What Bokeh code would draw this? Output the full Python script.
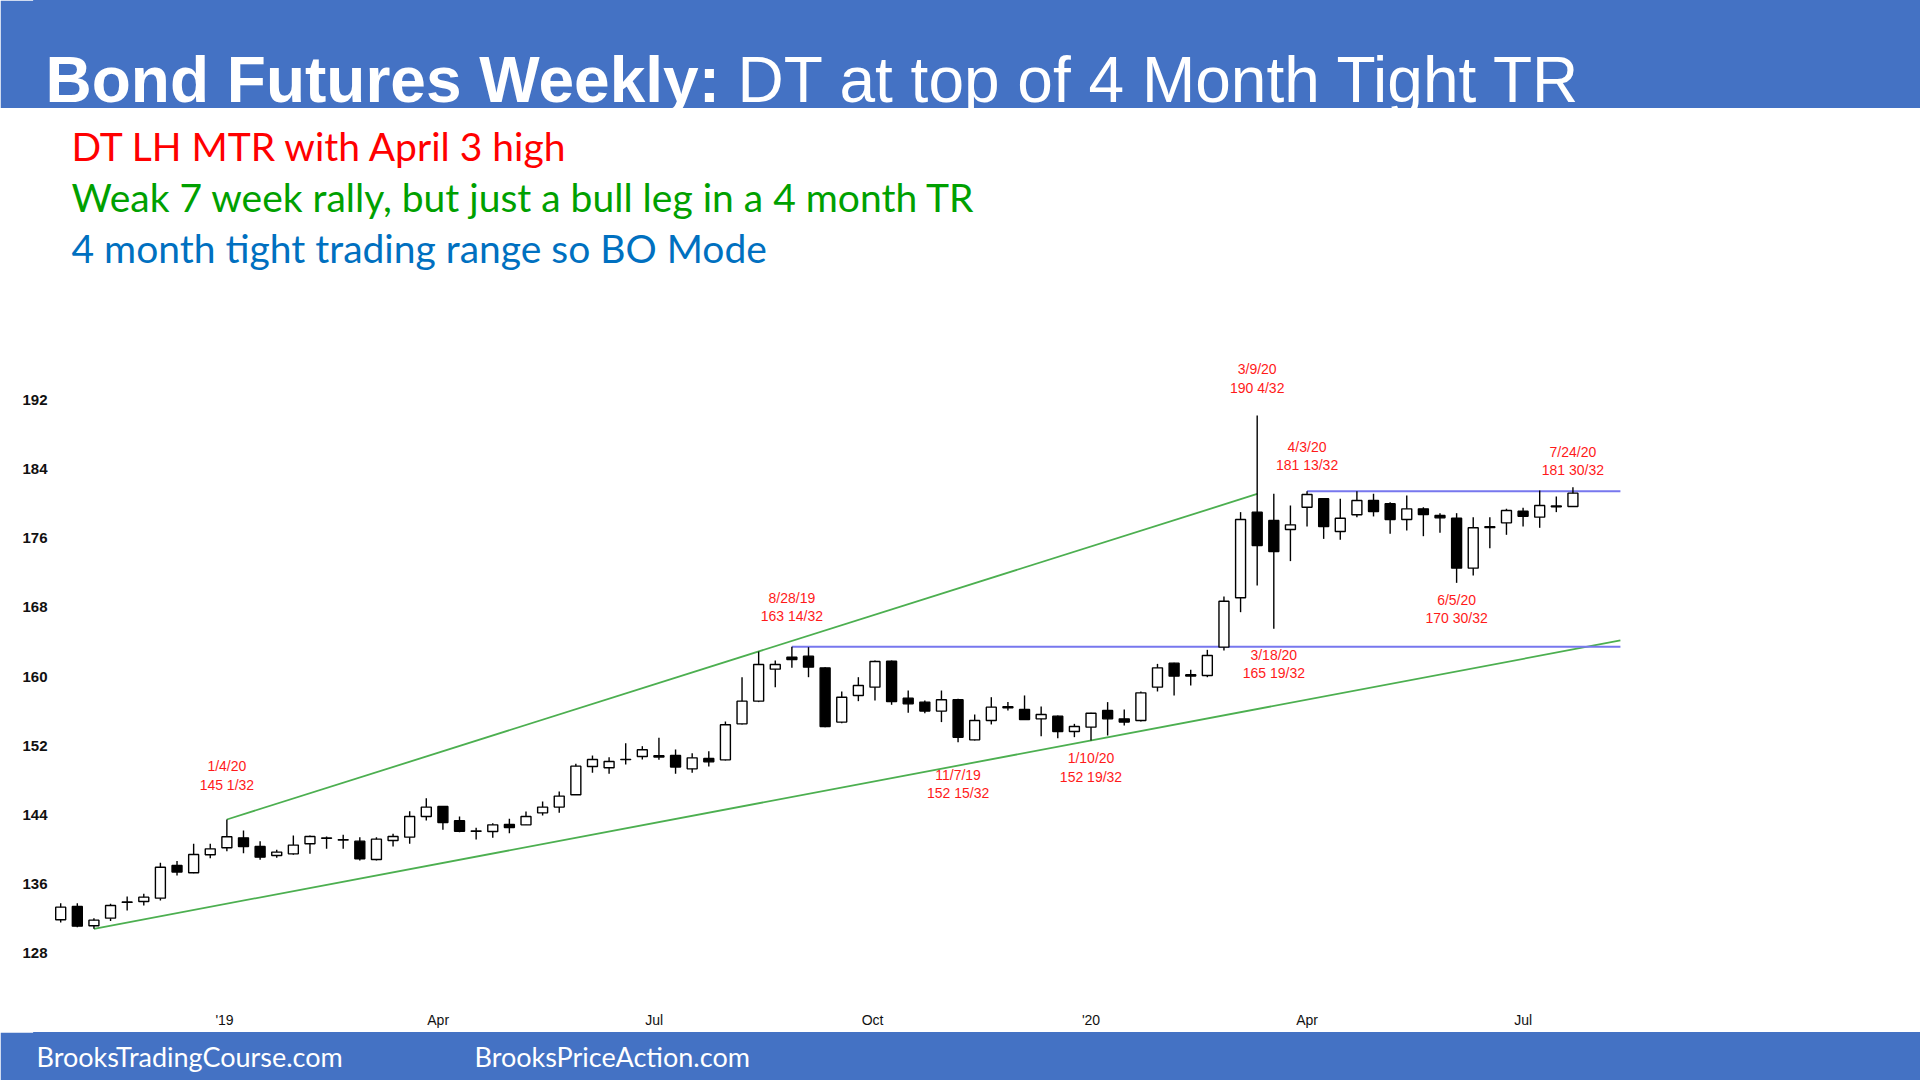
import pandas as pd
from bokeh.plotting import figure
from bokeh.layouts import column
from bokeh.models import ColumnDataSource, Range1d, FixedTicker, CustomJSTickFormatter
from bokeh.core.properties import value
from bokeh.embed import file_html
from bokeh.resources import INLINE

# ---------------- data (weekly bond futures bars) ----------------
first_week = "2018-10-24"
opens = [131.89, 133.43, 131.20, 132.08, 133.90, 134.01, 134.39, 138.17, 137.32, 139.40,
         140.21, 141.36, 140.36, 139.32, 139.51, 140.67, 141.30, 141.15, 140.98, 138.86,
         141.05, 141.44, 143.83, 144.98, 143.33, 142.15, 142.09, 142.90, 142.86, 144.25,
         144.91, 146.33, 149.60, 149.45, 150.40, 150.76, 150.85, 150.87, 149.33, 150.53,
         150.37, 154.53, 157.15, 160.85, 162.23, 162.35, 161.00, 154.73, 157.81, 158.77,
         161.77, 157.50, 157.04, 156.00, 157.31, 152.68, 154.92, 156.50, 156.19, 155.11,
         155.42, 153.65, 154.15, 156.07, 155.11, 154.92, 158.77, 161.54, 160.20, 160.12,
         163.39, 169.09, 178.99, 178.02, 176.98, 179.56, 180.53, 176.75, 178.68, 180.33,
         179.95, 178.14, 179.37, 178.60, 178.29, 172.52, 177.20, 177.75, 179.10, 178.41,
         179.60, 179.64]
highs = [133.81, 133.81, 132.08, 133.74, 134.59, 134.89, 138.47, 138.67, 140.67, 140.67,
         143.48, 142.21, 140.98, 139.98, 141.63, 141.63, 141.52, 141.71, 141.44, 141.44,
         141.83, 144.44, 145.94, 144.98, 143.83, 142.52, 143.06, 143.56, 144.40, 145.56,
         146.72, 149.91, 150.87, 150.68, 152.30, 151.95, 152.92, 151.57, 151.14, 151.37,
         154.80, 159.92, 162.89, 161.85, 163.44, 163.39, 161.08, 158.27, 159.92, 161.85,
         161.85, 158.38, 157.23, 158.38, 157.42, 155.61, 157.61, 157.04, 157.81, 156.54,
         155.50, 154.53, 155.80, 157.04, 156.19, 158.27, 161.46, 161.60, 160.77, 163.08,
         169.24, 178.99, 190.15, 181.10, 179.76, 181.41, 180.60, 180.53, 181.41, 181.10,
         180.14, 180.91, 179.56, 178.87, 178.87, 178.41, 178.41, 179.37, 179.49, 181.50,
         180.80, 181.87]
lows = [131.58, 131.04, 130.85, 131.74, 132.97, 133.55, 134.12, 137.01, 137.28, 139.01,
        139.82, 139.59, 138.82, 139.06, 139.40, 139.51, 140.09, 140.09, 138.74, 138.74,
        140.36, 140.67, 143.37, 142.29, 142.02, 141.17, 141.36, 141.90, 142.86, 143.94,
        144.25, 146.33, 148.87, 148.76, 149.83, 150.41, 150.37, 148.76, 148.87, 149.60,
        150.30, 154.46, 157.04, 158.77, 161.00, 159.92, 154.15, 154.61, 157.15, 157.23,
        156.73, 155.80, 155.76, 154.73, 152.41, 152.61, 154.46, 156.07, 155.00, 153.11,
        152.88, 152.99, 152.61, 153.18, 154.34, 154.80, 158.27, 157.81, 158.96, 159.92,
        163.00, 167.43, 170.51, 165.51, 173.33, 177.33, 175.90, 175.79, 178.41, 178.49,
        176.48, 176.87, 176.21, 176.60, 170.82, 171.67, 174.83, 176.37, 177.33, 177.18,
        178.99, 179.60]
closes = [133.35, 131.16, 131.85, 133.55, 133.96, 134.51, 137.97, 137.40, 139.44, 140.09,
          141.48, 140.36, 139.13, 139.71, 140.52, 141.52, 141.34, 141.11, 138.94, 141.21,
          141.52, 143.83, 144.91, 143.13, 142.13, 142.12, 142.86, 142.56, 143.83, 144.91,
          146.18, 149.64, 150.41, 150.18, 150.43, 151.53, 150.70, 149.53, 150.60, 150.14,
          154.42, 157.15, 161.39, 161.39, 161.97, 161.08, 154.22, 157.61, 158.96, 161.73,
          157.11, 156.84, 156.00, 157.31, 152.99, 154.92, 156.46, 156.38, 155.03, 155.61,
          153.65, 154.22, 155.76, 155.11, 154.73, 158.11, 161.00, 160.04, 160.05, 162.43,
          168.70, 178.14, 175.13, 174.44, 177.52, 181.03, 177.33, 178.29, 180.33, 179.06,
          178.14, 179.37, 178.72, 178.33, 172.52, 177.18, 177.30, 179.18, 178.52, 179.76,
          179.70, 181.18]

y_ticks = [128, 136, 144, 152, 160, 168, 176, 184, 192]

# annotated bars: (bar index, anchor "high"/"low", text)
ann_bars = [10, 44, 54, 62, 72, 73, 75, 84, 91]
ann_side = ["high", "high", "low", "low", "high", "low", "high", "low", "high"]
ann_text = ["1/4/20\n145 1/32", "8/28/19\n163 14/32", "11/7/19\n152 15/32",
            "1/10/20\n152 19/32", "3/9/20\n190 4/32", "3/18/20\n165 19/32",
            "4/3/20\n181 13/32", "6/5/20\n170 30/32", "7/24/20\n181 30/32"]

title_bold = "Bond Futures Weekly:"
title_rest = "DT at top of 4 Month Tight TR"
notes = ["DT LH MTR with April 3 high",
         "Weak 7 week rally, but just a bull leg in a 4 month TR",
         "4 month tight trading range so BO Mode"]
footer_texts = ["BrooksTradingCourse.com", "BrooksPriceAction.com"]

line_end_date = "2020-08-11"

# ---------------- styling / page geometry ----------------
HEADER = "#4472C4"
RED = "#FF1A1A"
ARIAL = value("Liberation Sans")
CAL = value("Lato")
LEFT, RIGHT = 34, 0            # shared horizontal geometry of all panels
FRAME_W = 1920 - LEFT - RIGHT
PX_PER_DAY = 2.374
JAN19_PX = 224                 # page x of the '19 tick

dates = pd.date_range(first_week, periods=len(opens), freq="7D")
DAY_MS = 86400000.0


def panel(height, y0, fill):
    f = figure(frame_width=FRAME_W, frame_height=height,
               min_border_left=LEFT, min_border_right=RIGHT,
               min_border_top=0, min_border_bottom=0,
               x_range=Range1d(LEFT, LEFT + FRAME_W), y_range=Range1d(y0 + height, y0),
               output_backend="svg", toolbar_location=None,
               x_axis_type=None, y_axis_type=None,
               outline_line_color=fill, outline_line_width=3,
               background_fill_color=fill, border_fill_color=fill)
    f.grid.visible = False
    return f


# ---------------- header ----------------
head = panel(108, 0, HEADER)
head.text(x=[45], y=[79], text=[title_bold], text_font=ARIAL, text_font_style="bold",
          text_font_size="64px", text_color="white", text_baseline="alphabetic")
head.text(x=[737], y=[79], text=[title_rest], text_font=ARIAL,
          text_font_size="64px", text_color="white", text_baseline="alphabetic")

# ---------------- notes ----------------
top = panel(192, 108, "white")
note_colors = ["#FF0000", "#00A000", "#0070C0"]
top.text(x=[71, 71, 71], y=[145, 196, 247], text=notes, text_font=CAL,
         text_font_size="39px", text_color=note_colors, text_baseline="alphabetic")

# ---------------- main chart ----------------
x_start = pd.Timestamp("2019-01-01") - pd.Timedelta(days=(JAN19_PX - LEFT) / PX_PER_DAY)
x_end = x_start + pd.Timedelta(days=FRAME_W / PX_PER_DAY)
p = figure(x_axis_type="datetime", frame_width=FRAME_W, frame_height=705,
           min_border_left=LEFT, min_border_right=RIGHT, min_border_top=0, min_border_bottom=27,
           x_range=Range1d(x_start, x_end), y_range=Range1d(121.99, 203.44),
           output_backend="svg", toolbar_location=None, outline_line_color=None)
p.grid.visible = False

src = ColumnDataSource(dict(
    date=dates, o=opens, h=highs, l=lows, c=closes,
    top=[max(a, b) for a, b in zip(opens, closes)],
    bot=[min(a, b) for a, b in zip(opens, closes)],
    fill=["white" if c >= o else "black" for o, c in zip(opens, closes)],
))

# trend lines (green) and range lines (blue)
d_ms = [d.value / 1e6 for d in dates]
end_ts = pd.Timestamp(line_end_date)
end_ms = end_ts.value / 1e6
s_up = (highs[42] - highs[10]) / (d_ms[42] - d_ms[10])
p.line(x=[dates[10], dates[72]], y=[highs[10], highs[10] + s_up * (d_ms[72] - d_ms[10])],
       line_color="#4CAF50", line_width=1.8)
s_lo = (lows[62] - lows[2]) / (d_ms[62] - d_ms[2])
p.line(x=[dates[2], end_ts], y=[lows[2], lows[2] + s_lo * (end_ms - d_ms[2])],
       line_color="#4CAF50", line_width=1.8)
p.line(x=[dates[44], end_ts], y=[highs[44], highs[44]], line_color="#7777EE", line_width=2)
p.line(x=[dates[75], end_ts], y=[highs[75], highs[75]], line_color="#7777EE", line_width=2)

p.segment(x0="date", y0="l", x1="date", y1="h", source=src, line_color="black", line_width=1.4)
p.vbar(x="date", width=4.2 * DAY_MS, top="top", bottom="bot", source=src,
       fill_color="fill", line_color="black", line_width=1.4)

# red annotations
ann_offsets = {10: -44, 44: -40, 54: 42, 62: 27, 72: -37, 73: 35, 75: -35, 84: 26, 91: -26}
ann_src = ColumnDataSource(dict(
    x=[dates[i] for i in ann_bars],
    y=[highs[i] if s == "high" else lows[i] for i, s in zip(ann_bars, ann_side)],
    t=ann_text,
    off=[ann_offsets[i] for i in ann_bars],
))
p.text(x="x", y="y", text="t", y_offset="off", source=ann_src, text_font=ARIAL,
       text_font_size="14px", text_color=RED, text_align="center",
       text_baseline="middle", text_line_height=1.15)

# axes: quarterly month ticks over the span of the bars
quarter_starts = pd.date_range(dates[0], dates[-1], freq="QS")
p.yaxis.ticker = FixedTicker(ticks=y_ticks)
p.xaxis.ticker = FixedTicker(ticks=[t.value / 1e6 for t in quarter_starts])
p.xaxis.formatter = CustomJSTickFormatter(code="""
const d = new Date(tick);
const m = d.getUTCMonth();
if (m === 0) { return "'" + String(d.getUTCFullYear()).slice(2); }
return ["Jan","Feb","Mar","Apr","May","Jun","Jul","Aug","Sep","Oct","Nov","Dec"][m];
""")
for ax in (p.xaxis[0], p.yaxis[0]):
    ax.axis_line_color = None
    ax.major_tick_line_color = None
    ax.minor_tick_line_color = None
    ax.major_tick_out = 0
    ax.major_tick_in = 0
    ax.minor_tick_out = 0
    ax.major_label_text_font = "Liberation Sans"
    ax.major_label_text_color = "#111111"
p.yaxis.major_label_text_font_style = "bold"
p.yaxis.major_label_text_font_size = "15px"
p.yaxis.major_label_standoff = LEFT - 47   # right edge of labels at page x 47
p.xaxis.major_label_text_font_size = "14px"
p.xaxis.major_label_standoff = 6

# ---------------- footer ----------------
foot = panel(48, 1032, HEADER)
foot.text(x=[36, 474], y=[1056, 1056], text=footer_texts, text_font=CAL,
          text_font_size="27px", text_color="white", text_baseline="alphabetic")

layout = column(head, top, p, foot, spacing=0)
open("out.html", "w").write(file_html(layout, INLINE))
